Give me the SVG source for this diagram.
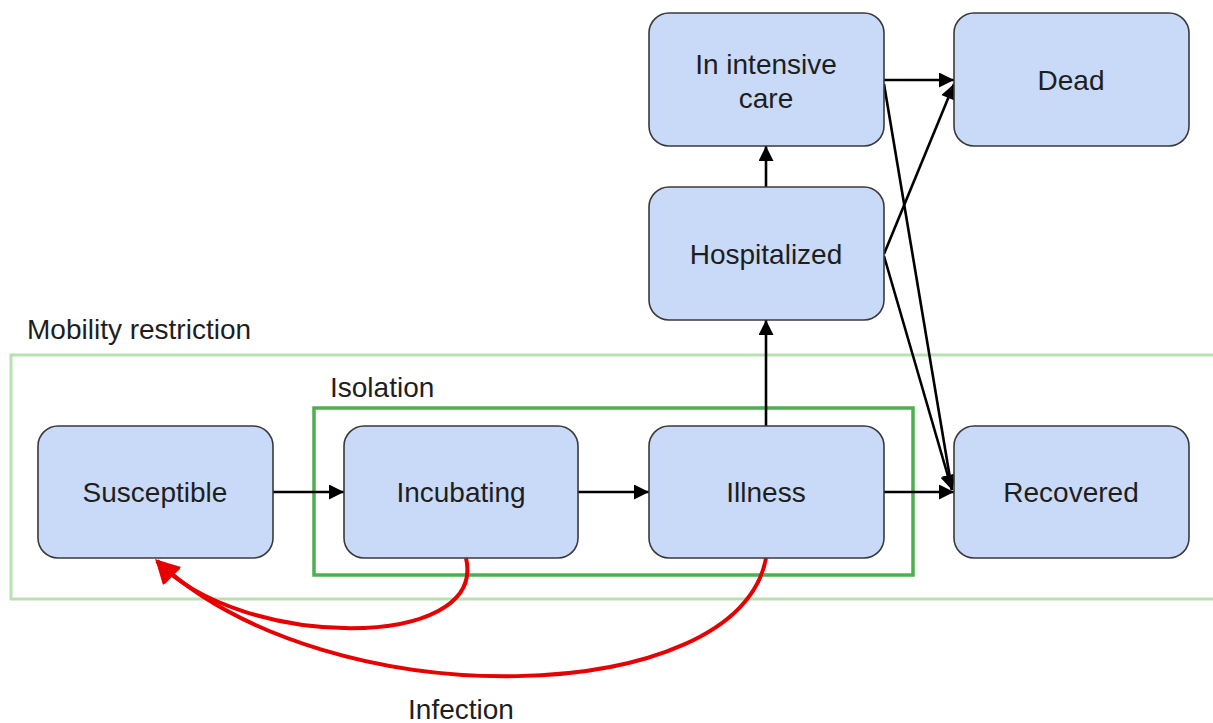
<svg xmlns="http://www.w3.org/2000/svg" width="1213" height="723" viewBox="0 0 1213 723">
<style>
.node{fill:#c9daf8;stroke:#3a3a3a;stroke-width:1.6}
.lbl{font-family:"Liberation Sans",Arial,sans-serif;font-size:28px;fill:#1e1e1e;text-anchor:middle}
.cap{font-family:"Liberation Sans",Arial,sans-serif;font-size:28px;fill:#1e1e1e}
.edge{fill:none;stroke:#000;stroke-width:2.6;marker-end:url(#ah)}
.inf{fill:none;stroke:#e60000;stroke-width:4;marker-end:url(#rh)}
</style>
<defs>
<marker id="ah" viewBox="0 0 10 10" refX="10" refY="5" markerUnits="userSpaceOnUse" markerWidth="20" markerHeight="15" orient="auto">
<path d="M0,0 L10,5 L0,10 z" fill="#000"/>
</marker>
<marker id="rh" viewBox="0 0 10 10" refX="9" refY="5" markerUnits="userSpaceOnUse" markerWidth="28" markerHeight="24" orient="auto">
<path d="M0,0 L10,5 L0,10 z" fill="#e60000"/>
</marker>
</defs>
<rect width="1213" height="723" fill="#fff"/>
<g id="mobility-restriction">
<rect x="11" y="355" width="1210" height="244" fill="none" stroke="#b7e1b0" stroke-width="3"/>
<text class="cap" x="27" y="339">Mobility restriction</text>
</g>
<g id="isolation">
<rect x="314" y="408" width="599" height="167" fill="none" stroke="#4caf50" stroke-width="3.5"/>
<text class="cap" x="330" y="397">Isolation</text>
</g>
<g id="connectors">
<line class="edge" x1="273" y1="492" x2="344" y2="492"/>
<line class="edge" x1="578" y1="492" x2="649" y2="492"/>
<line class="edge" x1="884" y1="492" x2="954" y2="492"/>
<line class="edge" x1="766" y1="426" x2="766" y2="320"/>
<line class="edge" x1="766" y1="187" x2="766" y2="146"/>
<line class="edge" x1="884" y1="80" x2="954" y2="80"/>
<line class="edge" x1="884" y1="254" x2="954" y2="84"/>
<line class="edge" x1="884" y1="84" x2="952" y2="490"/>
<line class="edge" x1="884" y1="256" x2="952" y2="490"/>
<path class="inf" d="M466,558 C488,652 240,650 157,561"/>
<path class="inf" d="M766,558 C740,708 330,722 157,561"/>
<text class="lbl" x="461" y="719">Infection</text>
</g>
<g id="susceptible">
<rect class="node" x="38" y="426" width="235" height="132" rx="20"/>
<text class="lbl" x="155" y="502">Susceptible</text>
</g>
<g id="incubating">
<rect class="node" x="344" y="426" width="234" height="132" rx="20"/>
<text class="lbl" x="461" y="502">Incubating</text>
</g>
<g id="illness">
<rect class="node" x="649" y="426" width="235" height="132" rx="20"/>
<text class="lbl" x="766" y="502">Illness</text>
</g>
<g id="recovered">
<rect class="node" x="954" y="426" width="235" height="132" rx="20"/>
<text class="lbl" x="1071" y="502">Recovered</text>
</g>
<g id="hospitalized">
<rect class="node" x="649" y="187" width="235" height="133" rx="20"/>
<text class="lbl" x="766" y="264">Hospitalized</text>
</g>
<g id="intensive-care">
<rect class="node" x="649" y="13" width="235" height="133" rx="20"/>
<text class="lbl" x="766" y="74">In intensive</text>
<text class="lbl" x="766" y="108">care</text>
</g>
<g id="dead">
<rect class="node" x="954" y="13" width="235" height="133" rx="20"/>
<text class="lbl" x="1071" y="90">Dead</text>
</g>
</svg>
